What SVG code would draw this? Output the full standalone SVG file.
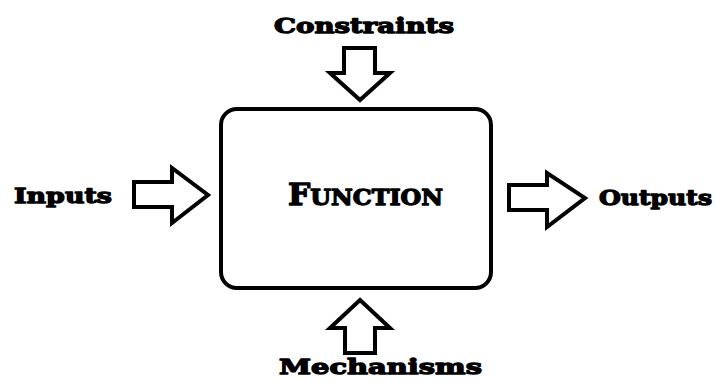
<svg xmlns="http://www.w3.org/2000/svg" width="715" height="381" viewBox="0 0 715 381">
<style>
.lbl{font-family:"DejaVu Serif","Liberation Serif",serif;font-weight:bold;font-size:21px;fill:#000;stroke:#000;stroke-width:1.3;stroke-linejoin:round}
.arrow{fill:#fff;stroke:#000;stroke-width:4;stroke-linejoin:miter}
.box{fill:#fff;stroke:#000;stroke-width:4}
</style>
<rect width="715" height="381" fill="#fff"/>
<g id="connectors">
<polygon id="arrow-constraints" class="arrow" points="344,48 375,48 375,73 390,73 360,100 330,73 344,73"/>
<polygon id="arrow-mechanisms" class="arrow" points="360,300 390,328 375,328 375,353 345,353 345,328 330,328"/>
<polygon id="arrow-inputs" class="arrow" points="134,182 172,182 172,168 208,195 172,223 172,207 134,207"/>
<polygon id="arrow-outputs" class="arrow" points="509,185 547,185 547,173 585,198 547,227 547,210 509,210"/>
</g>
<g id="node-function">
<rect class="box" x="221" y="109" width="270" height="179" rx="16" ry="16"/>
<text x="288" y="205" class="lbl" textLength="155" lengthAdjust="spacingAndGlyphs"><tspan font-size="29">F</tspan><tspan font-size="22">UNCTION</tspan></text>
</g>
<g id="node-constraints">
<text class="lbl" x="274" y="33" textLength="180" lengthAdjust="spacingAndGlyphs">Constraints</text>
</g>
<g id="node-inputs">
<text class="lbl" x="14" y="203" textLength="98" lengthAdjust="spacingAndGlyphs">Inputs</text>
</g>
<g id="node-outputs">
<text class="lbl" x="599" y="205" textLength="113" lengthAdjust="spacingAndGlyphs">Outputs</text>
</g>
<g id="node-mechanisms">
<text class="lbl" x="279" y="374" textLength="203" lengthAdjust="spacingAndGlyphs">Mechanisms</text>
</g>
</svg>
